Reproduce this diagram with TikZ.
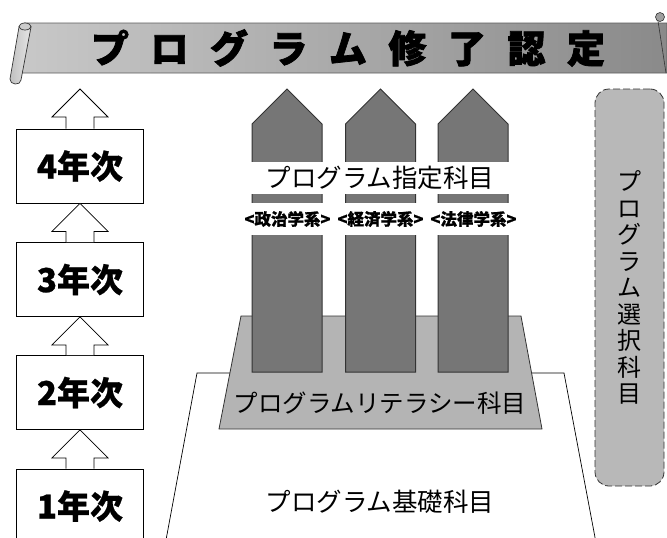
\documentclass[tikz,border=0pt]{standalone}
\usepackage{fontspec}
\newfontfamily\jp{Noto Sans CJK JP}
\newfontfamily\jpheavy[FakeBold=2]{Noto Sans CJK JP}
\newfontfamily\jpbold[FakeBold=0.8]{Noto Sans CJK JP}
\usetikzlibrary{calc}
\definecolor{pillargray}{HTML}{767676}
\definecolor{litgray}{HTML}{B4B4B4}
\definecolor{selgray}{HTML}{B8B8B8}
\definecolor{edgegray}{HTML}{333333}
\definecolor{banL}{HTML}{C8C8C8}
\definecolor{banR}{HTML}{8A8A8A}
\newcommand\tsp{\hspace{21.5pt}}
\newcommand\myblockarrow[2]{%
  \draw[uparrow] let \p1=(#1), \p2=(#2) in
    (\x1-14pt,\y1) -- (\x1-14pt,\y2-28pt) -- (\x1-28pt,\y2-28pt) -- (\x2,\y2)
    -- (\x1+28pt,\y2-28pt) -- (\x1+14pt,\y2-28pt) -- (\x1+14pt,\y1);}
\tikzset{
  yearbox/.style={draw=black, line width=0.8pt, fill=white, minimum width=127pt,
    minimum height=74pt, inner sep=0pt, font=\jpbold\bfseries\fontsize{33}{33}\selectfont},
  uparrow/.style={draw=black, line width=0.8pt, fill=white},
  pillar/.style={draw=edgegray, line width=1pt, fill=pillargray},
  whitelabel/.style={fill=white, inner sep=0pt, minimum height=32pt},
  sublabel/.style={whitelabel, font=\jpbold\bfseries\fontsize{16.5}{16.5}\selectfont},
  biglabel/.style={inner sep=0pt, font=\jp\fontsize{25.5}{25.5}\selectfont},
}
\begin{document}
\begin{tikzpicture}[x=1pt,y=-1pt]
\useasboundingbox (0,0) rectangle (667,538);
% banner
\shade[left color=banL, right color=banR, draw=edgegray!80, line width=0.6pt]
  (24,23) -- (667,23) -- (667,73) -- (20,73) -- cycle;
\shade[left color=gray!50, right color=gray!20, draw=edgegray, line width=0.7pt]
  (19,27) -- (10,79) .. controls (9.5,85) and (20.5,86) .. (21,80) -- (31,27) -- cycle;
\draw[fill=gray!40, draw=edgegray, line width=0.7pt] (25,26.5) ellipse (6 and 3.5);
\draw[fill=gray!75, draw=edgegray, line width=0.6pt] (660,17) circle (4.5);
\draw[edgegray, line width=0.6pt] (658,21) -- (666,73);
\node (title) at (348,48) {\jpheavy\bfseries\fontsize{38}{38}\selectfont
  プ\tsp ロ\tsp グ\tsp ラ\tsp ム\tsp 修\tsp 了\tsp 認\tsp 定};
% year boxes
\node[yearbox] (y4) at (80,166) {4年次};
\node[yearbox] (y3) at (80,279.5) {3年次};
\node[yearbox] (y2) at (80,392.5) {2年次};
\node[yearbox] (y1) at (80,506) {1年次};
\coordinate (toptip) at (80,89);
\myblockarrow{y4.north}{toptip}
\myblockarrow{y3.north}{y4.south}
\myblockarrow{y2.north}{y3.south}
\myblockarrow{y1.north}{y2.south}
% foundation
\coordinate (fbl) at (166,540);
\coordinate (ftl) at (197,373);
\coordinate (ftr) at (564,373);
\coordinate (fbr) at (595.5,540);
\draw[black, line width=0.7pt] (fbl) -- (ftl) -- (ftr) -- (fbr);
\node[biglabel] (base) at (380,502) {プログラム基礎科目};
% literacy
\coordinate (lbl) at (219,429);
\coordinate (ltl) at (241,316);
\coordinate (ltr) at (521,316);
\coordinate (lbr) at (542,429);
\draw[draw=edgegray, line width=0.8pt, fill=litgray] (lbl) -- (ltl) -- (ltr) -- (lbr) -- cycle;
\node[inner sep=0pt, font=\jp\fontsize{24.5}{24.5}\selectfont] (lit) at (380,403) {プログラムリテラシー科目};
% pillars
\foreach \px in {252,345.5,438} {
  \draw[pillar] (\px,372) -- (\px,124) -- (\px+35,89) -- (\px+70,124) -- (\px+70,372) -- cycle;
}
\node[whitelabel, biglabel, minimum width=262pt, minimum height=32pt] (spec) at (380,178) {プログラム指定科目};
\node[sublabel] (pol) at (287.5,219) {<政治学系>};
\node[sublabel] (eco) at (380.5,219) {<経済学系>};
\node[sublabel] (law) at (473.5,219) {<法律学系>};
% elective
\node[draw=edgegray, line width=0.8pt, dash pattern=on 7pt off 3pt, fill=selgray,
  rounded corners=14pt, minimum width=69pt, minimum height=397pt, inner sep=0pt,
  align=center, font=\jp\fontsize{24}{26.5}\selectfont] (sel) at (629.5,287.5)
  {プ\\ロ\\グ\\ラ\\ム\\選\\択\\科\\目};
\end{tikzpicture}
\end{document}
